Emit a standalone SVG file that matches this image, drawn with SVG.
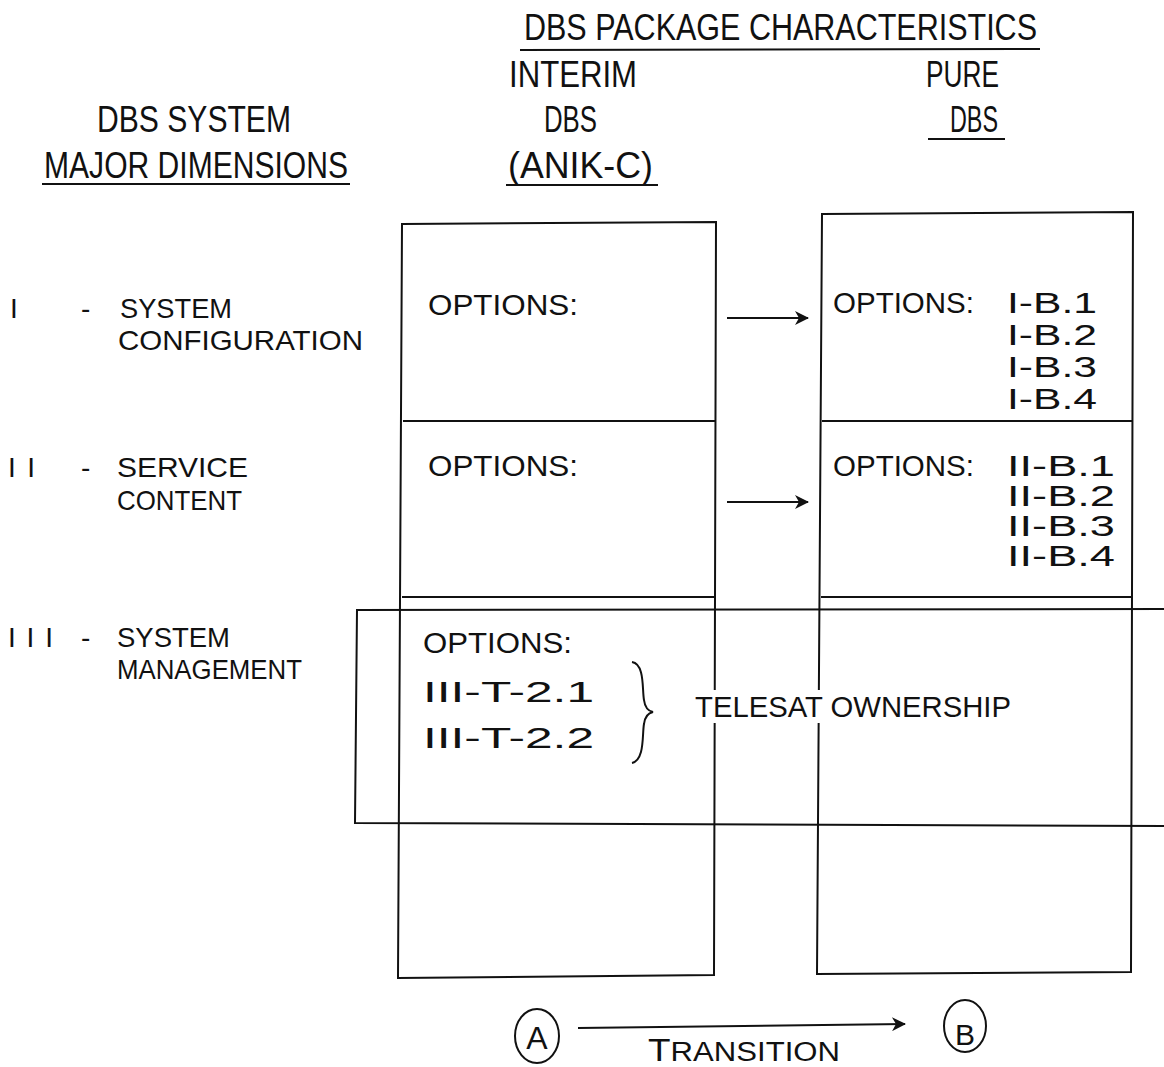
<svg xmlns="http://www.w3.org/2000/svg" width="1164" height="1067" viewBox="0 0 1164 1067">
<style>
text{font-family:"Liberation Sans","DejaVu Sans",sans-serif;fill:#111}
.h{font-size:36px}
.l{font-size:28px}
.o{font-size:30px}
.ln{fill:none;stroke:#111;stroke-width:2}
</style>
<defs>
<marker id="ah" viewBox="0 0 16 14" refX="15" refY="7" markerWidth="16" markerHeight="14" markerUnits="userSpaceOnUse" orient="auto">
<path d="M2,0 L16,7 L2,14 L6,7 Z" fill="#111"/>
</marker>
</defs>
<rect width="1164" height="1067" fill="#fff"/>
<g id="headers">
<text class="h" x="524" y="40" textLength="513" lengthAdjust="spacingAndGlyphs">DBS PACKAGE CHARACTERISTICS</text>
<line class="ln" x1="520" y1="50" x2="1040" y2="49"/>
<text class="h" x="509" y="87" textLength="128" lengthAdjust="spacingAndGlyphs">INTERIM</text>
<text class="h" x="926" y="87" textLength="73" lengthAdjust="spacingAndGlyphs">PURE</text>
<text class="h" x="97" y="132" textLength="194" lengthAdjust="spacingAndGlyphs">DBS SYSTEM</text>
<text class="h" x="544" y="132" textLength="53" lengthAdjust="spacingAndGlyphs">DBS</text>
<text class="h" x="950" y="132" textLength="48" lengthAdjust="spacingAndGlyphs">DBS</text>
<line class="ln" x1="928" y1="139" x2="1005" y2="139"/>
<text class="h" x="44" y="178" textLength="304" lengthAdjust="spacingAndGlyphs">MAJOR DIMENSIONS</text>
<line class="ln" x1="42" y1="184" x2="350" y2="184"/>
<text class="h" x="508" y="178" textLength="145" lengthAdjust="spacingAndGlyphs">(ANIK-C)</text>
<line class="ln" x1="506" y1="185" x2="658" y2="185"/>
</g>
<g id="dim-1">
<text class="l" x="10" y="318">I</text>
<text class="l" x="81" y="318">-</text>
<text class="l" x="120" y="318" textLength="112" lengthAdjust="spacingAndGlyphs">SYSTEM</text>
<text class="l" x="118" y="350" textLength="245" lengthAdjust="spacingAndGlyphs">CONFIGURATION</text>
</g>
<g id="dim-2">
<text class="l" x="8" y="477" textLength="27" lengthAdjust="spacing">II</text>
<text class="l" x="81" y="477">-</text>
<text class="l" x="117" y="477" textLength="131" lengthAdjust="spacingAndGlyphs">SERVICE</text>
<text class="l" x="117" y="510" textLength="125" lengthAdjust="spacingAndGlyphs">CONTENT</text>
</g>
<g id="dim-3">
<text class="l" x="8" y="647" textLength="45" lengthAdjust="spacing">III</text>
<text class="l" x="81" y="647">-</text>
<text class="l" x="117" y="647" textLength="113" lengthAdjust="spacingAndGlyphs">SYSTEM</text>
<text class="l" x="117" y="679" textLength="185" lengthAdjust="spacingAndGlyphs">MANAGEMENT</text>
</g>
<g id="interim-column">
<path class="ln" d="M402,224 L716,222 L714,975 L398,978 Z"/>
<line class="ln" x1="403" y1="421" x2="716" y2="421"/>
<line class="ln" x1="402" y1="597" x2="715" y2="597"/>
<text class="o" x="428" y="315" textLength="150" lengthAdjust="spacingAndGlyphs">OPTIONS:</text>
<text class="o" x="428" y="476" textLength="150" lengthAdjust="spacingAndGlyphs">OPTIONS:</text>
</g>
<g id="pure-column">
<path class="ln" d="M822,214 L1133,212 L1131,972 L817,974 Z"/>
<line class="ln" x1="822" y1="421" x2="1133" y2="421"/>
<line class="ln" x1="821" y1="597" x2="1132" y2="597"/>
<text class="o" x="833" y="313" textLength="141" lengthAdjust="spacingAndGlyphs">OPTIONS:</text>
<text class="o" x="1007" y="313" textLength="90" lengthAdjust="spacingAndGlyphs">I-B.1</text>
<text class="o" x="1007" y="345" textLength="90" lengthAdjust="spacingAndGlyphs">I-B.2</text>
<text class="o" x="1007" y="377" textLength="90" lengthAdjust="spacingAndGlyphs">I-B.3</text>
<text class="o" x="1007" y="409" textLength="90" lengthAdjust="spacingAndGlyphs">I-B.4</text>
<text class="o" x="833" y="476" textLength="141" lengthAdjust="spacingAndGlyphs">OPTIONS:</text>
<text class="o" x="1007" y="476" textLength="108" lengthAdjust="spacingAndGlyphs">II-B.1</text>
<text class="o" x="1007" y="506" textLength="108" lengthAdjust="spacingAndGlyphs">II-B.2</text>
<text class="o" x="1007" y="536" textLength="108" lengthAdjust="spacingAndGlyphs">II-B.3</text>
<text class="o" x="1007" y="566" textLength="108" lengthAdjust="spacingAndGlyphs">II-B.4</text>
</g>
<g id="management-band">
<path class="ln" d="M1164,609 L357,610 L355,823 L1164,826"/>
<rect x="690" y="690" width="325" height="33" fill="#fff"/>
<text class="o" x="423" y="653" textLength="149" lengthAdjust="spacingAndGlyphs">OPTIONS:</text>
<text class="o" x="423" y="702" textLength="171" lengthAdjust="spacingAndGlyphs">III-T-2.1</text>
<text class="o" x="423" y="748" textLength="171" lengthAdjust="spacingAndGlyphs">III-T-2.2</text>
<path class="ln" d="M632,662 C645,664 642,690 644,700 C645,708 648,711 653,712 C648,713 645,716 644,724 C642,734 645,760 632,763"/>
<text class="o" x="695" y="717" textLength="316" lengthAdjust="spacingAndGlyphs">TELESAT OWNERSHIP</text>
</g>
<g id="node-A">
<ellipse class="ln" cx="537" cy="1036" rx="22" ry="27"/>
<text x="537" y="1049" font-size="32" text-anchor="middle">A</text>
</g>
<g id="node-B">
<ellipse class="ln" cx="965" cy="1026" rx="21" ry="26"/>
<text x="965" y="1045" font-size="30" text-anchor="middle">B</text>
</g>
<g id="connectors">
<line class="ln" x1="727" y1="318" x2="808" y2="318" marker-end="url(#ah)"/>
<line class="ln" x1="727" y1="502" x2="808" y2="502" marker-end="url(#ah)"/>
<line class="ln" x1="578" y1="1028" x2="905" y2="1024" marker-end="url(#ah)"/>
<text x="648" y="1061" textLength="192" lengthAdjust="spacingAndGlyphs"><tspan font-size="32">T</tspan><tspan font-size="27">RANSITION</tspan></text>
</g>
</svg>
